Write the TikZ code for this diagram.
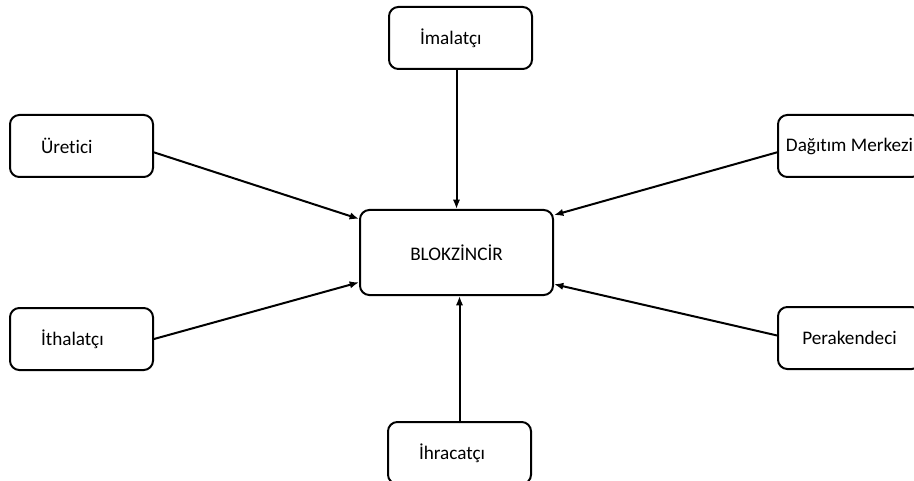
\documentclass[tikz,border=0pt]{standalone}
\usepackage{fontspec}
\setmainfont{Carlito}[Ligatures=NoCommon]
\usepackage{tikz}
\usetikzlibrary{shapes.geometric, arrows.meta}

\begin{document}
\begin{tikzpicture}[x=0.75pt, y=-0.75pt, auto]
    % Define the style for the nodes
    \tikzstyle{block} = [rectangle, draw, line width=1.5pt, rounded corners=7pt, minimum width=107.25pt, minimum height=46.5pt, font=\fontsize{14.4}{17}\selectfont]
    \tikzstyle{leftblock} = [block, text width=60.75pt, align=left]
    \tikzstyle{line} = [draw, -{Latex[length=7pt, width=5.5pt]}, line width=1.5pt]

    % Fix the page size
    \clip (0,0) rectangle (914,481);

    % Place the nodes
    \node [block, minimum width=144.75pt, minimum height=63.75pt] (blok) at (456.5,252.5) {BLOKZİNCİR};
    \node [leftblock] (imalatci) at (460.5,38) {İmalatçı};
    \node [leftblock] (uretici) at (81.5,146) {Üretici};
    \node [leftblock] (ithalatci) at (81.5,339) {İthalatçı};
    \node [leftblock] (ihracatci) at (459.5,453) {İhracatçı};
    \node [block] (dagitim) at (849.5,146) {Dağıtım Merkezi};
    \node [block] (perakendeci) at (849.5,338) {Perakendeci};

    % Connect the nodes with paths
    \path [line] (imalatci.south -| blok) -- (blok.north);
    \path [line] (uretici.-5) -- (blok.161);
    \path [line] (dagitim.185) -- (blok.21);
    \path [line] (ithalatci.east) -- (blok.197);
    \path [line] (perakendeci.178) -- (blok.-18);
    \path [line] (ihracatci.north |- blok.south) ++(0,127) -- (ihracatci.north |- blok.south);
\end{tikzpicture}
\end{document}
